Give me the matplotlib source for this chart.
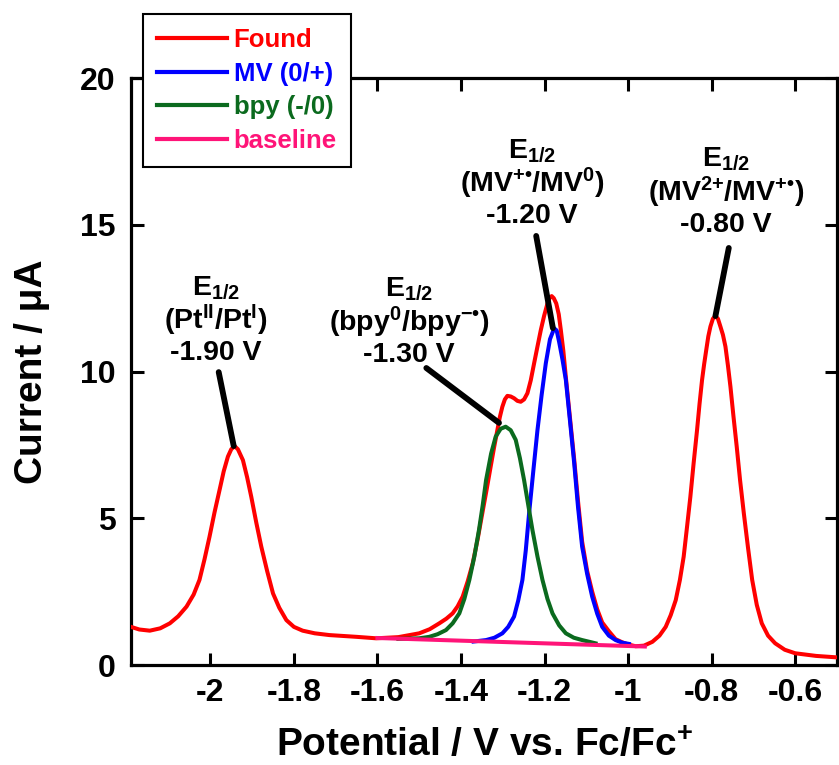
import matplotlib
matplotlib.use('Agg')
import matplotlib.pyplot as plt

# ---- data ----
found_x = [-2.19, -2.17, -2.145, -2.12, -2.097, -2.077, -2.057, -2.04, -2.026, -2.014,
           -2.002, -1.99, -1.978, -1.968, -1.958, -1.95, -1.942, -1.934, -1.922, -1.912,
           -1.902, -1.89, -1.878, -1.864, -1.85, -1.835, -1.818, -1.80, -1.779, -1.75,
           -1.715, -1.65, -1.603, -1.55, -1.5, -1.475, -1.452, -1.435, -1.42, -1.408,
           -1.396, -1.384, -1.372, -1.36, -1.349, -1.339, -1.329, -1.321, -1.313, -1.307,
           -1.301, -1.295, -1.289, -1.281, -1.273, -1.265, -1.257, -1.249, -1.241, -1.233,
           -1.225, -1.217, -1.209, -1.201, -1.193, -1.188, -1.183, -1.178, -1.172, -1.166,
           -1.161, -1.155, -1.149, -1.139, -1.129, -1.12, -1.110, -1.098, -1.086, -1.074,
           -1.062, -1.046, -1.03, -1.015, -1.0, -0.982, -0.962, -0.942, -0.925, -0.910,
           -0.898, -0.886, -0.876, -0.867, -0.859, -0.851, -0.843, -0.835, -0.829, -0.823,
           -0.818, -0.813, -0.808, -0.803, -0.797, -0.791, -0.785, -0.779, -0.773, -0.767,
           -0.761, -0.755, -0.748, -0.740, -0.732, -0.723, -0.713, -0.703, -0.692, -0.680,
           -0.665, -0.648, -0.625, -0.60, -0.55, -0.50]
found_y = [1.30, 1.21, 1.17, 1.25, 1.42, 1.66, 1.99, 2.4, 2.9, 3.6,
           4.37, 5.2, 5.96, 6.6, 7.10, 7.35, 7.46, 7.35, 6.98, 6.4,
           5.73, 4.85, 4.03, 3.2, 2.44, 1.95, 1.53, 1.30, 1.17, 1.08,
           1.02, 0.96, 0.91, 0.95, 1.08, 1.22, 1.42, 1.58, 1.76, 2.0,
           2.33, 2.85, 3.46, 4.3, 5.17, 5.95, 6.76, 7.4, 8.0, 8.45,
           8.8, 9.05, 9.17, 9.15, 9.09, 9.0, 8.97, 9.05, 9.26, 9.7,
           10.28, 10.85, 11.41, 11.9, 12.32, 12.5, 12.57, 12.5, 12.32, 11.95,
           11.41, 10.7, 9.8, 8.4, 7.0, 5.6, 4.2, 3.2, 2.5, 1.9,
           1.45, 1.15, 0.88, 0.78, 0.70, 0.64, 0.66, 0.79, 1.0, 1.30,
           1.70, 2.21, 2.9, 3.69, 4.7, 5.73, 6.9, 8.0, 8.9, 9.71,
           10.25, 10.73, 11.2, 11.53, 11.8, 11.89, 11.8, 11.53, 11.25, 10.85,
           10.2, 9.48, 8.5, 7.44, 6.3, 5.17, 4.0, 2.90, 2.05, 1.42,
           1.0, 0.74, 0.52, 0.40, 0.31, 0.26]

mv_x = [-1.37, -1.34, -1.32, -1.301, -1.287, -1.273, -1.263, -1.253, -1.245, -1.237,
        -1.227, -1.217, -1.207, -1.197, -1.187, -1.177, -1.171, -1.165, -1.157, -1.149,
        -1.139, -1.129, -1.12, -1.110, -1.098, -1.086, -1.074, -1.062, -1.046, -1.030,
        -1.014, -0.998]
mv_y = [0.80, 0.85, 0.93, 1.08, 1.3, 1.65, 2.2, 2.9, 3.9, 5.17,
        6.6, 8.0, 9.2, 10.28, 11.1, 11.47, 11.4, 11.0, 10.4, 9.71,
        8.3, 6.87, 5.4, 4.03, 3.1, 2.33, 1.75, 1.30, 1.0, 0.85,
        0.76, 0.72]

bpy_x = [-1.55, -1.5, -1.476, -1.456, -1.436, -1.42, -1.404, -1.392, -1.38, -1.368,
         -1.357, -1.348, -1.34, -1.328, -1.317, -1.305, -1.293, -1.281, -1.269, -1.259,
         -1.249, -1.239, -1.229, -1.217, -1.205, -1.193, -1.181, -1.165, -1.149, -1.13,
         -1.11, -1.078]
bpy_y = [0.89, 0.91, 0.96, 1.05, 1.19, 1.42, 1.76, 2.25, 2.9, 3.7,
         4.6, 5.45, 6.30, 7.2, 7.78, 8.05, 8.12, 8.0, 7.67, 7.05,
         6.30, 5.45, 4.6, 3.7, 2.9, 2.25, 1.76, 1.35, 1.08, 0.93,
         0.85, 0.74]

base_x = [-1.60, -0.96]
base_y = [0.92, 0.63]

x_ticks = [-2, -1.8, -1.6, -1.4, -1.2, -1, -0.8, -0.6]
x_tick_labels = ['-2', '-1.8', '-1.6', '-1.4', '-1.2', '-1', '-0.8', '-0.6']
y_ticks = [0, 5, 10, 15, 20]

# annotation: (label, text centre, line start, peak)
labels = [
    ('E$_{\\mathrm{1/2}}$\n(Pt$^{\\mathrm{II}}$/Pt$^{\\mathrm{I}}$)\n-1.90 V', (-1.987, 11.75), (-1.980, 9.98), (-1.944, 7.46)),
    ('E$_{\\mathrm{1/2}}$\n(bpy$^{\\mathrm{0}}$/bpy$^{\\mathrm{-\u2022}}$)\n-1.30 V', (-1.524, 11.69), (-1.483, 10.12), (-1.309, 8.25)),
    ('E$_{\\mathrm{1/2}}$\n(MV$^{{+}\\mathrm{\u2022}}$/MV$^{\\mathrm{0}}$)\n-1.20 V', (-1.230, 16.42), (-1.220, 14.62), (-1.180, 11.48)),
    ('E$_{\\mathrm{1/2}}$\n(MV$^{\\mathrm{2}{+}}$/MV$^{{+}\\mathrm{\u2022}}$)\n-0.80 V', (-0.766, 16.12), (-0.759, 14.21), (-0.791, 11.89)),
]

plt.rcParams['font.family'] = ['Liberation Sans', 'DejaVu Sans']
plt.rcParams['font.weight'] = 'bold'
plt.rcParams['mathtext.fontset'] = 'custom'
plt.rcParams['mathtext.rm'] = 'Liberation Sans:bold'
plt.rcParams['mathtext.it'] = 'Liberation Sans:bold'
plt.rcParams['mathtext.bf'] = 'Liberation Sans:bold'
plt.rcParams['axes.unicode_minus'] = False

red = '#FF0000'
blue = '#0000FF'
green = '#0B6A1E'
pink = '#FF1478'

fig = plt.figure(figsize=(8.39, 7.65), dpi=100)
ax = fig.add_axes([0.1561, 0.1307, 0.8415, 0.7673])

lw = 2.9
ax.plot(found_x, found_y, color=red, lw=lw, label='Found', zorder=3, solid_joinstyle='round')
ax.plot(mv_x, mv_y, color=blue, lw=lw, label='MV (0/+)', zorder=4, solid_joinstyle='round')
ax.plot(bpy_x, bpy_y, color=green, lw=lw, label='bpy (-/0)', zorder=4, solid_joinstyle='round')
ax.plot(base_x, base_y, color=pink, lw=lw, label='baseline', zorder=5)

for txt, tpos, start, peak in labels:
    ax.text(tpos[0], tpos[1], txt, ha='center', va='center', fontsize=20.5,
            fontweight='bold', linespacing=1.1, zorder=6)
    ax.annotate('', xy=peak, xytext=start,
                arrowprops=dict(arrowstyle='-', lw=4.2, color='black',
                                shrinkA=0, shrinkB=0), zorder=6)

ax.set_xlim(-2.19, -0.5)
ax.set_ylim(0, 20)
ax.set_xticks(x_ticks)
ax.set_xticklabels(x_tick_labels)
ax.set_yticks(y_ticks)
ax.tick_params(axis='both', direction='in', length=9, width=2.2,
               top=True, right=True, labelsize=23)
ax.tick_params(axis='x', pad=9)
ax.tick_params(axis='y', pad=11)
for s in ax.spines.values():
    s.set_linewidth(2.3)

ax.set_xlabel('Potential / V vs. Fc/Fc$^{\\mathrm{+}}$', fontsize=28, fontweight='bold', labelpad=15)
ax.set_ylabel('Current / \u03bcA', fontsize=28, fontweight='bold', labelpad=22)

leg = ax.legend(loc='upper left', bbox_to_anchor=(0.170, 0.982),
                bbox_transform=fig.transFigure, borderaxespad=0,
                fontsize=18.5, handlelength=2.72, handletextpad=0.27,
                labelspacing=0.38, borderpad=0.55, fancybox=False,
                edgecolor='black', framealpha=1, labelcolor='linecolor')
leg.get_frame().set_linewidth(1.5)
for h in leg.get_lines():
    h.set_linewidth(3)
for t in leg.get_texts():
    t.set_fontweight('bold')

fig.savefig('out.png', dpi=100)
